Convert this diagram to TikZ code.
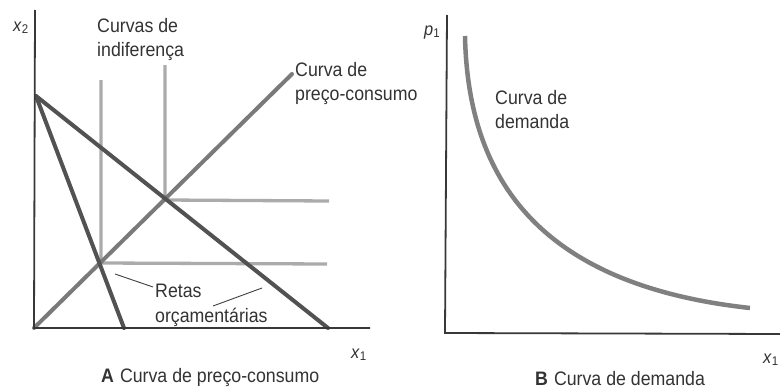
\documentclass[tikz,border=0pt]{standalone}
\usepackage{fontspec}
\setmainfont[FakeStretch=0.91]{Liberation Sans}
\begin{document}
\begin{tikzpicture}[x=1pt,y=-1pt,
  axis/.style={draw=black!78,line width=1.8pt},
  budget/.style={draw=black!68,line width=4pt,line cap=round},
  pcc/.style={draw=black!52,line width=4pt,line cap=round},
  indiff/.style={draw=black!33,line width=3.3pt},
  demand/.style={draw=black!50,line width=4.5pt},
  leader/.style={draw=black!75,line width=0.9pt},
  lab/.style={inner sep=0pt,text=black!80,font=\fontsize{19.5}{24.5}\selectfont,align=left},
  axlab/.style={inner sep=0pt,text=black!80,font=\fontsize{18}{20}\selectfont}]
\useasboundingbox (0,0) rectangle (780,388);
\fill[white] (0,0) rectangle (780,388);
% ---------- Panel A ----------
\coordinate (Ao) at (34,328);
\coordinate (Aytop) at (35,10);
\coordinate (Axend) at (370,328);
\coordinate (Bint) at (36,96);
\coordinate (B1) at (124,328);
\coordinate (B2) at (328,328);
\coordinate (Pend) at (292,74);
\coordinate (I1top) at (101,80);
\coordinate (I1c) at (101,263);
\coordinate (I1end) at (327,264);
\coordinate (I2top) at (165,65);
\coordinate (I2c) at (165,200);
\coordinate (I2end) at (329,201);
\draw[indiff] (I1top) -- (I1c) -- (I1end);
\draw[indiff] (I2top) -- (I2c) -- (I2end);
\draw[pcc] (Ao) -- (Pend);
\draw[budget] (Bint) -- (B1);
\draw[budget] (Bint) -- (B2);
\draw[axis] (Aytop) -- (Ao) -- (Axend);
\node[axlab,anchor=base west] (x2A) at (13,31) {\textit{x}\textsubscript{2}};
\node[axlab,anchor=base west] (x1A) at (351,358) {\textit{x}\textsubscript{1}};
\node[lab,anchor=north west] (ic) at (97,18) {Curvas de\\indiferença};
\node[lab,anchor=north west] (pc) at (295,62) {Curva de\\preço-consumo};
\node[lab,anchor=north west] (rt) at (155,284) {Retas\\orçamentárias};
\coordinate (L1a) at (115,274);
\coordinate (L1b) at (153,287);
\coordinate (L2a) at (213,306);
\coordinate (L2b) at (262,288);
\draw[leader] (L1a) -- (L1b);
\draw[leader] (L2a) -- (L2b);
\node[lab,anchor=base west] (capA) at (101,382) {\textbf{A}\hspace{6pt}Curva de preço-consumo};
% ---------- Panel B ----------
\coordinate (Bo) at (445,333);
\coordinate (Bytop) at (447,15);
\coordinate (Bxend) at (780,334);
\coordinate (Dtop) at (465,36);
\coordinate (Dend) at (750,308);
\draw[demand] (Dtop) .. controls (468,180) and (540,285) .. (Dend);
\draw[axis] (Bytop) -- (Bo) -- (Bxend);
\node[axlab,anchor=base west] (p1B) at (424,35) {\textit{p}\textsubscript{1}};
\node[axlab,anchor=base west] (x1B) at (763,363) {\textit{x}\textsubscript{1}};
\node[lab,anchor=north west] (dc) at (495,90) {Curva de\\demanda};
\node[lab,anchor=base west] (capB) at (535,385) {\textbf{B}\hspace{6pt}Curva de demanda};
\end{tikzpicture}
\end{document}
